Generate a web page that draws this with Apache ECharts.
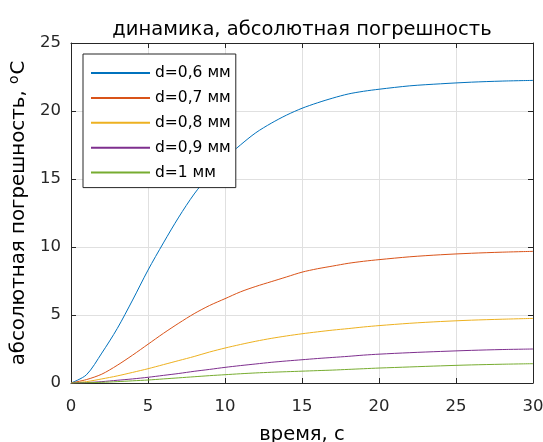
<!DOCTYPE html>
<html>
<head>
<meta charset="utf-8">
<script src="https://cdn.jsdelivr.net/npm/echarts@6/dist/echarts.min.js"></script>
<style>html,body{margin:0;padding:0;background:#fff;overflow:hidden;}#c{width:543px;height:442px;}</style>
</head>
<body>
<div id="c"></div>
<script>
const times = [0,1,2,3,4,5,6,7,8,9,10,11,12,13,14,15,16,17,18,19,20,22,24,26,28,30];
const d06 = [0,0.6,2.2,4.0,6.1,8.3,10.3,12.2,13.9,15.3,16.5,17.5,18.4,19.1,19.7,20.2,20.6,20.95,21.25,21.45,21.6,21.85,22.0,22.12,22.2,22.25];
const d07 = [0,0.25,0.65,1.3,2.05,2.85,3.65,4.4,5.1,5.7,6.2,6.7,7.1,7.45,7.8,8.15,8.4,8.6,8.8,8.95,9.07,9.28,9.43,9.54,9.62,9.68];
const d08 = [0,0.1,0.3,0.52,0.78,1.05,1.35,1.65,1.95,2.28,2.57,2.83,3.07,3.28,3.46,3.62,3.76,3.89,4.0,4.12,4.22,4.39,4.52,4.62,4.69,4.75];
const d09 = [0,0.03,0.1,0.2,0.3,0.42,0.56,0.7,0.86,1.0,1.15,1.28,1.4,1.52,1.62,1.71,1.8,1.88,1.96,2.05,2.12,2.23,2.32,2.4,2.46,2.5];
const d10 = [0,0.02,0.05,0.1,0.16,0.22,0.3,0.38,0.46,0.54,0.61,0.68,0.74,0.79,0.83,0.87,0.91,0.95,1.0,1.05,1.1,1.18,1.26,1.33,1.38,1.42];
const names = ['d=0,6 мм','d=0,7 мм','d=0,8 мм','d=0,9 мм','d=1 мм'];
const colors = ['#0072BD','#D95319','#EDB120','#7E2F8E','#77AC30'];
const xTicks = [0,5,10,15,20,25,30];
const yTicks = [0,5,10,15,20,25];
const allY = [d06,d07,d08,d09,d10];

const FONT = 'DejaVu Sans';
const AX = '#262626';
const chart = echarts.init(document.getElementById('c'), null, {renderer:'canvas'});
const axisCommon = {
  axisLine:{show:true,onZero:false,lineStyle:{color:AX,width:1}},
  axisTick:{show:true,inside:true,length:5,lineStyle:{color:AX}},
};
chart.setOption({
  animation:false,
  textStyle:{fontFamily:FONT},
  title:{text:'динамика, абсолютная погрешность',left:297,textAlign:'center',top:15,padding:5,
    textStyle:{fontFamily:FONT,fontSize:19.5,fontWeight:'normal',color:'#000'}},
  grid:{left:71,right:10,top:43,bottom:59,containLabel:false,outerBoundsMode:'none'},
  legend:{
    orient:'vertical',left:83,top:54,
    backgroundColor:'#fff',borderColor:AX,borderWidth:1,
    padding:[11,5,7,7],itemGap:8.9,itemWidth:59,itemHeight:14,
    itemStyle:{opacity:0},
    textStyle:{fontFamily:FONT,fontSize:15.5,color:'#000'},
    data:names
  },
  xAxis:[
    Object.assign({type:'value',min:xTicks[0],max:xTicks[xTicks.length-1],interval:5,position:'bottom',
      name:'время, с',nameLocation:'middle',nameGap:42,
      nameTextStyle:{fontFamily:FONT,fontSize:19.5,color:'#000'},
      axisLabel:{fontFamily:FONT,fontSize:16.5,color:AX,margin:15},
      splitLine:{show:true,lineStyle:{color:'#e0e0e0',width:1}}},axisCommon),
    Object.assign({type:'value',min:0,max:30,interval:5,position:'top',
      axisLabel:{show:false},splitLine:{show:false}},axisCommon)
  ],
  yAxis:[
    Object.assign({type:'value',min:yTicks[0],max:yTicks[yTicks.length-1],interval:5,position:'left',
      name:'абсолютная погрешность, {sup|o}C',nameLocation:'middle',nameGap:31,nameRotate:90,
      nameTextStyle:{fontFamily:FONT,fontSize:19.8,color:'#000',
        rich:{sup:{fontFamily:FONT,fontSize:14,color:'#000',padding:[0,1,10,0]}}},
      axisLabel:{fontFamily:FONT,fontSize:16.5,color:AX,margin:10},
      splitLine:{show:true,lineStyle:{color:'#e0e0e0',width:1}}},axisCommon),
    Object.assign({type:'value',min:0,max:25,interval:5,position:'right',
      axisLabel:{show:false},splitLine:{show:false}},axisCommon)
  ],
  series: allY.map((ys,i)=>({
    name:names[i],type:'line',symbol:'none',smooth:0.3,
    xAxisIndex:0,yAxisIndex:0,
    lineStyle:{color:colors[i],width:1},itemStyle:{color:colors[i]},
    data: times.map((t,j)=>[t,ys[j]])
  }))
});
</script>
</body>
</html>
